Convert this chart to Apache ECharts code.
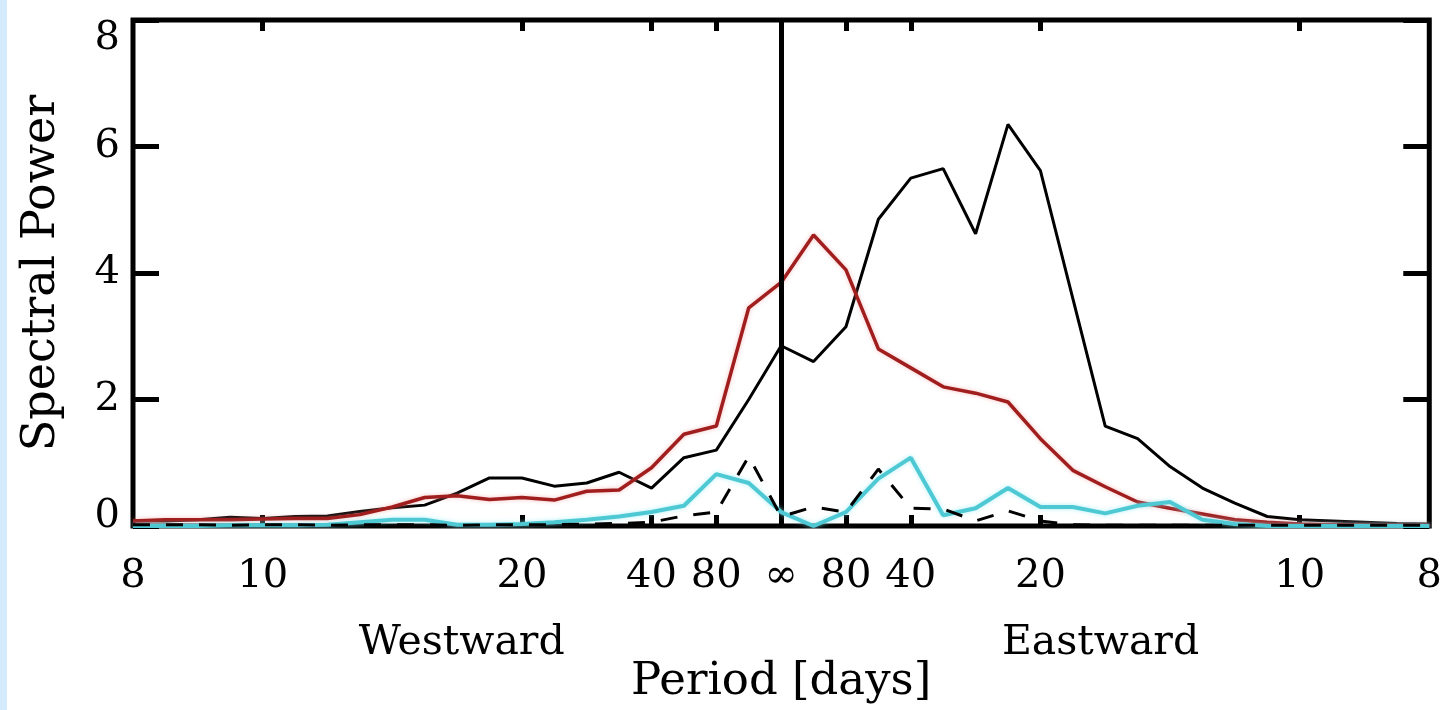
<!DOCTYPE html>
<html>
<head>
<meta charset="utf-8">
<script src="https://cdn.jsdelivr.net/npm/echarts@6/dist/echarts.min.js"></script>
<style>
html,body{margin:0;padding:0;background:#ffffff;}
#chart{width:1445px;height:710px;}
</style>
</head>
<body>
<div id="chart"></div>
<script>
// Frequency (cycles/day); negative = westward, positive = eastward
const frequency = [
  -0.125, -0.11875, -0.1125, -0.10625, -0.1, -0.09375, -0.0875, -0.08125, -0.075, -0.06875,
  -0.0625, -0.05625, -0.05, -0.04375, -0.0375, -0.03125, -0.025, -0.01875, -0.0125, -0.00625,
  0,
  0.00625, 0.0125, 0.01875, 0.025, 0.03125, 0.0375, 0.04375, 0.05, 0.05625, 0.0625,
  0.06875, 0.075, 0.08125, 0.0875, 0.09375, 0.1, 0.10625, 0.1125, 0.11875, 0.125
];

const blackSolid = [
  0.08, 0.08, 0.10, 0.14, 0.12, 0.15, 0.16, 0.23, 0.29, 0.33,
  0.52, 0.76, 0.76, 0.63, 0.68, 0.85, 0.60, 1.08, 1.20, 2.00,
  2.85,
  2.60, 3.15, 4.85, 5.50, 5.65, 4.62, 6.35, 5.62, 3.60, 1.58,
  1.38, 0.94, 0.60, 0.36, 0.15, 0.10, 0.08, 0.06, 0.04, 0.03
];

const redLine = [
  0.08, 0.10, 0.10, 0.10, 0.11, 0.12, 0.12, 0.18, 0.30, 0.45,
  0.48, 0.42, 0.45, 0.41, 0.55, 0.57, 0.92, 1.45, 1.58, 3.45,
  3.85,
  4.60, 4.05, 2.80, 2.50, 2.20, 2.10, 1.96, 1.38, 0.88, 0.62,
  0.38, 0.28, 0.19, 0.10, 0.06, 0.03, 0.02, 0.01, 0.01, 0.01
];

const cyanLine = [
  0.00, 0.00, 0.00, 0.01, 0.01, 0.01, 0.02, 0.06, 0.10, 0.10,
  0.02, 0.02, 0.03, 0.06, 0.10, 0.15, 0.22, 0.32, 0.82, 0.68,
  0.22,
  0.00, 0.22, 0.75, 1.08, 0.17, 0.28, 0.60, 0.30, 0.30, 0.20,
  0.32, 0.38, 0.10, 0.03, 0.00, 0.00, 0.00, 0.00, 0.00, 0.00
];

const blackDashed = [
  0.02, 0.02, 0.02, 0.01, 0.02, 0.02, 0.01, 0.02, 0.02, 0.02,
  0.01, 0.02, 0.02, 0.02, 0.03, 0.04, 0.06, 0.16, 0.22, 1.10,
  0.15,
  0.30, 0.22, 0.90, 0.28, 0.27, 0.08, 0.24, 0.08, 0.02, 0.01,
  0.01, 0.01, 0.01, 0.01, 0.01, 0.01, 0.01, 0.01, 0.01, 0.01
];

const periodLabelValues = [-0.125, -0.1, -0.05, -0.025, -0.0125, 0, 0.0125, 0.025, 0.05, 0.1, 0.125];
const periodLabels = ['8', '10', '20', '40', '80', '\u221E', '80', '40', '20', '10', '8'];
const periodTickValues = [-0.1, -0.05, -0.025, -0.0125, 0.0125, 0.025, 0.05, 0.1];

const powerMin = 0, powerMax = 8, powerStep = 2;

const directionLabels = [
  { text: 'Westward', freq: -0.0616 },
  { text: 'Eastward', freq: 0.0616 }
];

const FONT = 'DejaVu Serif';

function periodLabel(v) {
  for (let i = 0; i < periodLabelValues.length; i++) {
    if (Math.abs(periodLabelValues[i] - v) < 1e-9) return periodLabels[i];
  }
  return '';
}

function pairs(values) {
  return frequency.map((f, i) => [f, values[i]]);
}

const chart = echarts.init(document.getElementById('chart'), null, { renderer: 'canvas' });

const tickStyle = { color: '#000', width: 5 };

const option = {
  animation: false,
  backgroundColor: '#ffffff',
  grid: {
    left: 133, right: 14, top: 20, bottom: 176,
    show: true, borderColor: '#000', borderWidth: 5, backgroundColor: 'transparent'
  },
  xAxis: [
    {
      type: 'value', min: -0.125, max: 0.125, position: 'bottom',
      axisLine: { show: false, onZero: false }, splitLine: { show: false },
      axisTick: { show: true, inside: true, length: 11, lineStyle: tickStyle, customValues: periodTickValues },
      axisLabel: {
        show: true, customValues: periodLabelValues, formatter: periodLabel,
        margin: 31, fontFamily: FONT, fontSize: 40, color: '#000'
      },
      name: 'Period [days]', nameLocation: 'middle', nameGap: 134,
      nameTextStyle: { fontFamily: FONT, fontSize: 45, color: '#000' }
    },
    {
      type: 'value', min: -0.125, max: 0.125, position: 'top',
      axisLine: { show: false, onZero: false }, splitLine: { show: false },
      axisTick: { show: true, inside: true, length: 11, lineStyle: tickStyle, customValues: periodTickValues },
      axisLabel: { show: false }
    }
  ],
  yAxis: [
    {
      type: 'value', min: powerMin, max: powerMax, interval: powerStep, position: 'left',
      axisLine: { show: false, onZero: false }, splitLine: { show: false },
      axisTick: { show: true, inside: true, length: 26, lineStyle: tickStyle },
      axisLabel: {
        show: true, margin: 13, color: '#000', fontFamily: FONT, fontSize: 40,
        formatter: function (v) {
          if (v === powerMin) return '{b|' + v + '}';
          if (v === powerMax) return '{t|' + v + '}';
          return '{n|' + v + '}';
        },
        rich: {
          n: { fontFamily: FONT, fontSize: 40, color: '#000' },
          t: { fontFamily: FONT, fontSize: 40, color: '#000', padding: [38, 0, 0, 0] },
          b: { fontFamily: FONT, fontSize: 40, color: '#000', padding: [0, 0, 18, 0] }
        }
      },
      name: 'Spectral Power', nameLocation: 'middle', nameGap: 68, nameRotate: 90,
      nameTextStyle: { fontFamily: FONT, fontSize: 46, color: '#000' }
    },
    {
      type: 'value', min: powerMin, max: powerMax, interval: powerStep, position: 'right',
      axisLine: { show: false, onZero: false }, splitLine: { show: false },
      axisTick: { show: true, inside: true, length: 26, lineStyle: tickStyle },
      axisLabel: { show: false }
    }
  ],
  series: [
    {
      name: 'total', type: 'line', data: pairs(blackSolid), symbol: 'none', z: 3,
      lineStyle: { color: '#000', width: 3 },
      markLine: {
        silent: true, symbol: ['none', 'none'], label: { show: false },
        lineStyle: { color: '#000', width: 5, type: 'solid' },
        data: [{ xAxis: 0 }]
      }
    },
    {
      name: 'red', type: 'line', data: pairs(redLine), symbol: 'none', z: 4,
      lineStyle: { color: '#a01e1e', width: 3.5, shadowColor: 'rgba(240,140,140,0.55)', shadowBlur: 4 }
    },
    {
      name: 'cyan', type: 'line', data: pairs(cyanLine), symbol: 'none', z: 5,
      lineStyle: { color: '#4ec9d3', width: 4, shadowColor: 'rgba(140,235,245,0.7)', shadowBlur: 4 }
    },
    {
      name: 'dashed', type: 'line', data: pairs(blackDashed), symbol: 'none', z: 6,
      lineStyle: { color: '#000', width: 3, type: [17, 16] }
    }
  ]
};

chart.setOption(option);

const graphics = [
  { type: 'rect', left: 0, top: 0, shape: { x: 0, y: 0, width: 7, height: 710 }, style: { fill: '#d3ebfc' }, silent: true }
];
directionLabels.forEach(d => {
  const px = chart.convertToPixel({ xAxisIndex: 0 }, d.freq);
  graphics.push({
    type: 'text', x: px, y: 643, silent: true,
    style: { text: d.text, fontFamily: FONT, fontSize: 41, fill: '#000', align: 'center', verticalAlign: 'middle' }
  });
});
chart.setOption({ graphic: graphics });
</script>
</body>
</html>
